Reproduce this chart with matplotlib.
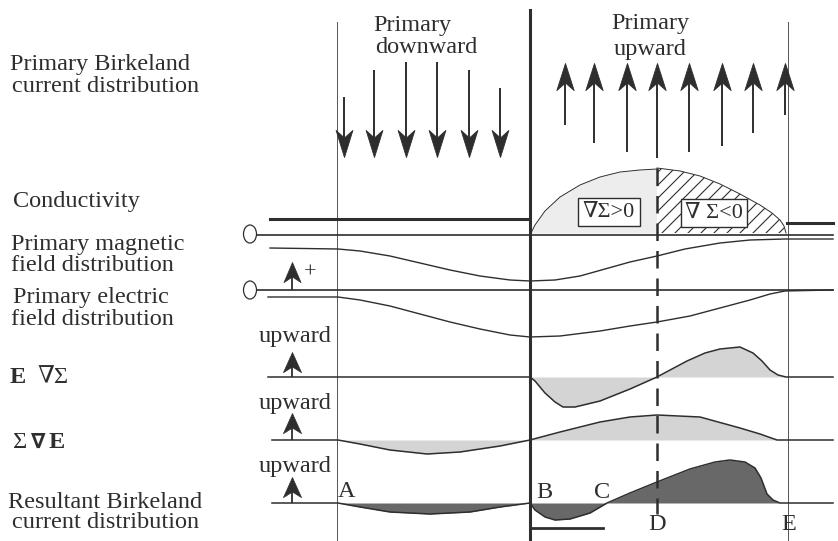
import numpy as np
import matplotlib.pyplot as plt
from matplotlib.path import Path
from matplotlib.patches import Ellipse

plt.rcParams['font.family'] = ['Liberation Serif', 'DejaVu Serif']

ink = '#2e2e2e'
light = '#d4d4d4'
dark = '#686868'
fs = 17.5

# everything below is in pixel units of the original scan (y grows downward)
x_A, x_B, x_D, x_E = 337, 530, 657, 788

# primary current arrows
down_x = [344, 374, 406, 437, 469, 500]
down_top = [97, 70, 62, 62, 70, 88]
down_tip = 157
up_x = [565, 594, 627, 657, 689, 722, 753, 785]
up_bottom = [125, 143, 152, 158, 152, 146, 133, 115]
up_tip = 63

# conductivity profile
cond_level_left = 219
cond_level_right = 223
cond_base = 233
cond_x_pos = [531, 535, 545, 560, 580, 600, 620, 640, 657]
cond_y_pos = [233, 225, 211, 197, 185, 177, 172, 170, 169]
cond_x_neg = [657, 680, 700, 720, 740, 760, 772, 780, 784, 786]
cond_y_neg = [168, 171, 176, 184, 194, 205, 213, 220, 226, 233]

# primary magnetic field
mag_zero = 235
mag_x = [270, 338, 360, 390, 420, 450, 480, 510, 530, 555, 580, 605, 630, 657,
         685, 720, 750, 785, 833]
mag_y = [248, 249, 251, 256, 263, 270, 276, 280, 281, 280, 276, 269, 262, 256,
         249, 243, 240, 239, 239]

# primary electric field
el_zero = 290
el_x = [268, 338, 360, 390, 420, 450, 480, 510, 530, 560, 600, 630, 657, 690,
        720, 750, 770, 785, 833]
el_y = [297, 297, 300, 306, 314, 322, 329, 335, 337, 336, 331, 326, 322, 316,
        308, 300, 294, 291, 290]

# E grad(Sigma)
egs_base = 377
egs_x = [268, 530, 535, 545, 555, 563, 575, 600, 630, 657, 687, 705, 720, 740,
         753, 762, 770, 778, 786, 833]
egs_y = [377, 377, 381, 393, 402, 407, 407, 401, 389, 377, 361, 353, 349, 347,
         353, 361, 370, 375, 377, 377]

# Sigma grad(E)
sge_base = 440
sge_x = [272, 338, 360, 390, 427, 460, 500, 530, 560, 600, 630, 657, 700, 740,
         760, 777, 833]
sge_y = [440, 440, 444, 450, 454, 452, 446, 440, 432, 422, 417, 415, 417, 428,
         434, 440, 440]

# resultant Birkeland current
res_base = 503
res_x = [272, 338, 360, 390, 430, 470, 500, 530, 535, 545, 555, 570, 590, 607,
         630, 657, 690, 715, 730, 745, 755, 761, 767, 773, 780, 833]
res_y = [503, 503, 507, 512, 514, 512, 507, 503, 510, 517, 520, 519, 513, 503,
         493, 482, 469, 462, 460, 462, 468, 478, 494, 500, 503, 503]


def head(width, flip=False):
    s = -1 if flip else 1
    verts = [(0, 0), (-width / 2, -s), (0, -0.72 * s), (width / 2, -s), (0, 0)]
    codes = [Path.MOVETO, Path.LINETO, Path.LINETO, Path.LINETO, Path.CLOSEPOLY]
    return Path(verts, codes)


fig = plt.figure(figsize=(8.38, 5.41), dpi=100)
ax = fig.add_axes([0, 0, 1, 1])
ax.set_xlim(0, 838)
ax.set_ylim(541, 0)
ax.axis('off')

# vertical guides
ax.plot([x_A, x_A], [22, 541], color='#555555', lw=0.7)
ax.plot([x_E, x_E], [22, 541], color='#555555', lw=0.7)
ax.plot([x_B, x_B], [10, 541], color=ink, lw=2.2)
ax.plot([x_D, x_D], [168, 514], color=ink, lw=1.8, dashes=(7, 4))

# primary currents
ax.vlines(down_x, down_top, [down_tip - 15] * len(down_x), color=ink, lw=1.4)
ax.plot(down_x, [down_tip] * len(down_x), ls='none', marker=head(0.62, flip=True),
        ms=39, mew=0.6, color=ink)
ax.vlines(up_x, [up_tip + 15] * len(up_x), up_bottom, color=ink, lw=1.4)
ax.plot(up_x, [up_tip] * len(up_x), ls='none', marker=head(0.64),
        ms=39, mew=0.6, color=ink)

ax.text(373, 31, 'Primary', fontsize=fs, color=ink, va='baseline')
ax.text(375, 53, 'downward', fontsize=fs, color=ink, va='baseline')
ax.text(650, 29, 'Primary', fontsize=fs, color=ink, va='baseline', ha='center')
ax.text(650, 55, 'upward', fontsize=fs, color=ink, va='baseline', ha='center')

# conductivity
ax.plot([270, x_B], [cond_level_left] * 2, color=ink, lw=2.2)
ax.plot([787, 833], [cond_level_right] * 2, color=ink, lw=2.2)
ax.fill_between(cond_x_pos, cond_y_pos, cond_base, color='#ededed', lw=0)
neg = ax.fill_between(cond_x_neg, cond_y_neg, cond_base, facecolor='white', lw=0)
for c in np.arange(830, 1060, 13):
    hl, = ax.plot([640, 800], [c - 640, c - 800], color=ink, lw=0.8)
    hl.set_clip_path(neg.get_paths()[0], ax.transData)
ax.plot(cond_x_pos, cond_y_pos, color=ink, lw=0.7)
ax.plot(cond_x_neg, cond_y_neg, color=ink, lw=0.7)
box = dict(boxstyle='square,pad=0.2', fc='white', ec=ink, lw=1.0)
ax.text(609, 212, '∇Σ>0', fontsize=16, color=ink, ha='center', va='center', bbox=box)
ax.text(714, 213, '∇ Σ<0', fontsize=16, color=ink, ha='center', va='center', bbox=box)

# zero markers
for yz in (mag_zero - 1, el_zero):
    ax.add_patch(Ellipse((250, yz), 13, 18, fill=False, ec=ink, lw=0.9))
ax.plot([257, 833], [mag_zero] * 2, color=ink, lw=1.2)
ax.plot([257, 833], [el_zero] * 2, color=ink, lw=1.2)

# field curves
ax.plot(mag_x, mag_y, color=ink, lw=1.0)
ax.plot(el_x, el_y, color=ink, lw=1.0)
ax.vlines(292, 276, el_zero, color=ink, lw=1.3)
ax.plot([292], [262], ls='none', marker=head(0.85), ms=29, mew=0.5, color=ink)
ax.text(310, 273, '+', fontsize=16, color=ink, ha='center', va='center')

# derived currents
ax.fill_between(egs_x, egs_y, egs_base, color=light, lw=0)
ax.plot(egs_x, egs_y, color=ink, lw=1.1)
ax.fill_between(sge_x, sge_y, sge_base, color=light, lw=0)
ax.plot(sge_x, sge_y, color=ink, lw=1.1)
ax.fill_between(res_x, res_y, res_base, color=dark, lw=0)
ax.plot(res_x, res_y, color=ink, lw=1.1)
ax.plot([x_B, 603], [528, 528], color=ink, lw=2.0)

for tip, base, ty in [(352, egs_base, 342), (413, sge_base, 409), (477, res_base, 472)]:
    ax.vlines(292, tip + 10, base, color=ink, lw=1.3)
    ax.plot([292], [tip], ls='none', marker=head(0.9), ms=29, mew=0.5, color=ink)
    ax.text(295, ty, 'upward', fontsize=fs, color=ink, ha='center', va='baseline')

for lab, lx, ly in [('A', 347, 497), ('B', 544, 498), ('C', 602, 498),
                    ('D', 657, 530), ('E', 789, 530)]:
    ax.text(lx, ly, lab, fontsize=fs, color=ink, ha='center', va='baseline')

# row labels
rows = [('Primary Birkeland', 10, 70), ('current distribution', 12, 92),
        ('Conductivity', 13, 207),
        ('Primary magnetic', 11, 250), ('field distribution', 11, 271),
        ('Primary electric', 13, 303), ('field distribution', 11, 325),
        ('Resultant Birkeland', 8, 508), ('current distribution', 12, 528)]
for txt, lx, ly in rows:
    ax.text(lx, ly, txt, fontsize=fs, color=ink, va='baseline')

ax.text(10, 383, 'E', fontsize=fs, color=ink, va='baseline', fontweight='bold')
ax.text(37, 383, '∇Σ', fontsize=fs, color=ink, va='baseline')
ax.text(13, 448, 'Σ', fontsize=fs, color=ink, va='baseline')
ax.text(31, 448, '∇', fontsize=15, color=ink, va='baseline', fontweight='bold',
        family=['DejaVu Sans'])
ax.text(49, 448, 'E', fontsize=fs, color=ink, va='baseline', fontweight='bold')

fig.savefig('out.png', dpi=100)
